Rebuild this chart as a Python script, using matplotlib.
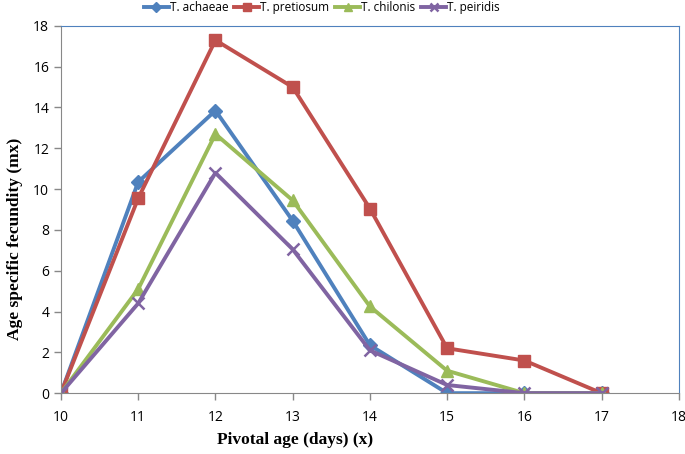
import matplotlib
matplotlib.use("Agg")
import matplotlib.pyplot as plt

age = [10, 11, 12, 13, 14, 15, 16, 17]
achaeae = [0, 10.35, 13.85, 8.45, 2.35, 0, 0, 0]
pretiosum = [0, 9.55, 17.3, 15.0, 9.05, 2.2, 1.6, 0]
chilonis = [0, 5.1, 12.7, 9.45, 4.25, 1.1, 0, 0]
peiridis = [0, 4.4, 10.8, 7.05, 2.1, 0.4, 0, 0]

series = [
    ("T. achaeae", achaeae, "#4F81BD", "D", 7),
    ("T. pretiosum", pretiosum, "#C0504D", "s", 8),
    ("T. chilonis", chilonis, "#9BBB59", "^", 8),
    ("T. peiridis", peiridis, "#8064A2", "x", 8),
]

fig = plt.figure(figsize=(6.85, 4.54), dpi=100)
ax = fig.add_axes([0.089, 0.134, 0.902, 0.809])

for name, vals, color, marker, ms in series:
    ax.plot(age, vals, color=color, linewidth=2.8, marker=marker, markersize=ms,
            markeredgewidth=1.8 if marker == "x" else 1, markeredgecolor=color,
            label=name)

ax.set_xlim(10, 18)
ax.set_ylim(0, 18)
ax.set_xticks(range(10, 19))
ax.set_yticks(range(0, 19, 2))
tick_font = {"family": "Open Sans", "size": 10}
ax.set_xticklabels([str(v) for v in range(10, 19)], **tick_font)
ax.set_yticklabels([str(v) for v in range(0, 19, 2)], **tick_font)
ax.tick_params(direction="out", length=5, color="#888888", width=1)
ax.tick_params(axis="x", pad=7)

for side in ("left", "bottom"):
    ax.spines[side].set_color("#888888")
for side in ("top", "right"):
    ax.spines[side].set_color("#4F81BD")

ax.set_xlabel("Pivotal age (days) (x)", fontfamily="Liberation Serif",
              fontweight="bold", fontsize=12.5)
ax.set_ylabel("Age specific fecundity (mx)", fontfamily="Liberation Serif",
              fontweight="bold", fontsize=12.5)
ax.xaxis.set_label_coords(0.379, -0.106)
ax.yaxis.set_label_coords(-0.062, 0.42)

leg = fig.legend(loc="upper center", bbox_to_anchor=(322 / 685, 1.0), ncol=4, frameon=False,
                 prop={"family": "Open Sans", "size": 8.5}, handlelength=2.1,
                 handletextpad=0.1, columnspacing=0.5, borderaxespad=0, borderpad=0.1,
                 markerscale=0.75)

fig.savefig("out.png", dpi=100)
